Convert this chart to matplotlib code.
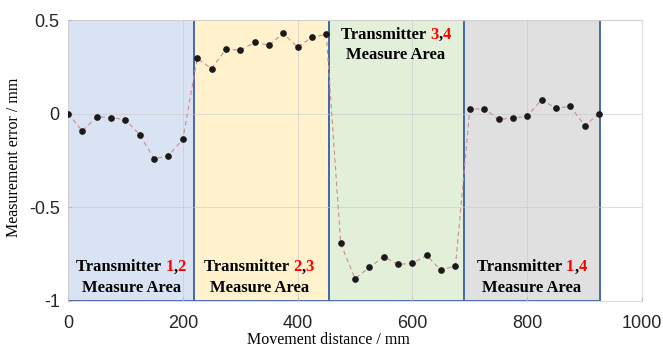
import numpy as np
import matplotlib
matplotlib.use("Agg")
import matplotlib.pyplot as plt
from matplotlib.patches import Rectangle
from matplotlib.offsetbox import TextArea, HPacker, VPacker, AnnotationBbox

# measurement positions (mm) and errors (mm)
x_12 = [0, 25, 50, 75, 100, 125, 150, 175, 200]
y_12 = [0.0, -0.093, -0.016, -0.021, -0.032, -0.113, -0.241, -0.225, -0.136]
x_23 = [225, 250, 275, 300, 325, 350, 375, 400, 425, 450]
y_23 = [0.295, 0.241, 0.344, 0.339, 0.380, 0.366, 0.429, 0.354, 0.409, 0.423]
x_34 = [475, 500, 525, 550, 575, 600, 625, 650, 675]
y_34 = [-0.693, -0.880, -0.821, -0.763, -0.805, -0.798, -0.757, -0.837, -0.811]
x_14 = [700, 725, 750, 775, 800, 825, 850, 875, 900, 925]
y_14 = [0.023, 0.027, -0.031, -0.023, -0.014, 0.075, 0.028, 0.039, -0.064, 0.0]

# measure areas: start, end, fill colour, transmitter pair
areas = [(0, 220, '#dae3f3', ('1', '2')),
         (220, 455, '#fff2cc', ('2', '3')),
         (455, 690, '#e2f0d9', ('3', '4')),
         (690, 926, '#e0e0e0', ('1', '4'))]
label_pos = [(110, -0.875), (333, -0.875), (571, 0.365), (808, -0.875)]

x = np.array(x_12 + x_23 + x_34 + x_14)
y = np.array(y_12 + y_23 + y_34 + y_14)

fig = plt.figure(figsize=(6.63, 3.56), dpi=100)
ax = fig.add_axes([0.1026, 0.1545, 0.8658, 0.7893])

for x0, x1, c, _ in areas:
    ax.add_patch(Rectangle((x0, -1), x1 - x0, 1.5, facecolor=c,
                           edgecolor='#4568a8', linewidth=1.4, zorder=1))

ax.grid(True, color='#c8c8c8', linewidth=0.7, alpha=0.6, zorder=2)
ax.set_axisbelow(False)

ax.plot(x, y, '--', color='#d48a8a', linewidth=0.8, dashes=(4, 3), zorder=3)
ax.plot(x, y, 'o', color='#1a1a1a', markersize=3.8, zorder=4)

serif = 'Liberation Serif'
for (x0, x1, c, pair), (tx, ty) in zip(areas, label_pos):
    kw = dict(fontfamily=serif, fontweight='bold', fontsize=12)
    row1 = HPacker(children=[TextArea('Transmitter ', textprops=dict(color='black', **kw)),
                             TextArea(pair[0], textprops=dict(color='red', **kw)),
                             TextArea(',', textprops=dict(color='black', **kw)),
                             TextArea(pair[1], textprops=dict(color='red', **kw))],
                   align='baseline', pad=0, sep=0)
    row2 = TextArea('Measure Area', textprops=dict(color='black', **kw))
    box = VPacker(children=[row1, row2], align='center', pad=0, sep=3)
    ab = AnnotationBbox(box, (tx, ty), frameon=False, zorder=5)
    ax.add_artist(ab)

ax.set_xlim(0, 1000)
ax.set_ylim(-1, 0.5)
ax.set_xticks([0, 200, 400, 600, 800, 1000])
ax.set_yticks([-1, -0.5, 0, 0.5])
ax.set_yticklabels(['-1', '-0.5', '0', '0.5'])
ax.tick_params(direction='in', length=3, color='#bbbbbb', labelsize=13,
               labelcolor='#262626')
ax.tick_params(axis='x', pad=10)
ax.tick_params(axis='y', pad=6)
for lab in ax.get_xticklabels() + ax.get_yticklabels():
    lab.set_fontfamily('Liberation Sans')
for s in ax.spines.values():
    s.set_color('#dddddd')
    s.set_linewidth(0.8)

ax.set_xlabel('Movement distance / mm', fontfamily=serif, fontsize=11.5)
ax.set_ylabel('Measurement error / mm', fontfamily=serif, fontsize=11.5)
ax.xaxis.set_label_coords(0.453, -0.11)
ax.yaxis.set_label_coords(-0.08, 0.51)

fig.savefig('out.png', dpi=100)
